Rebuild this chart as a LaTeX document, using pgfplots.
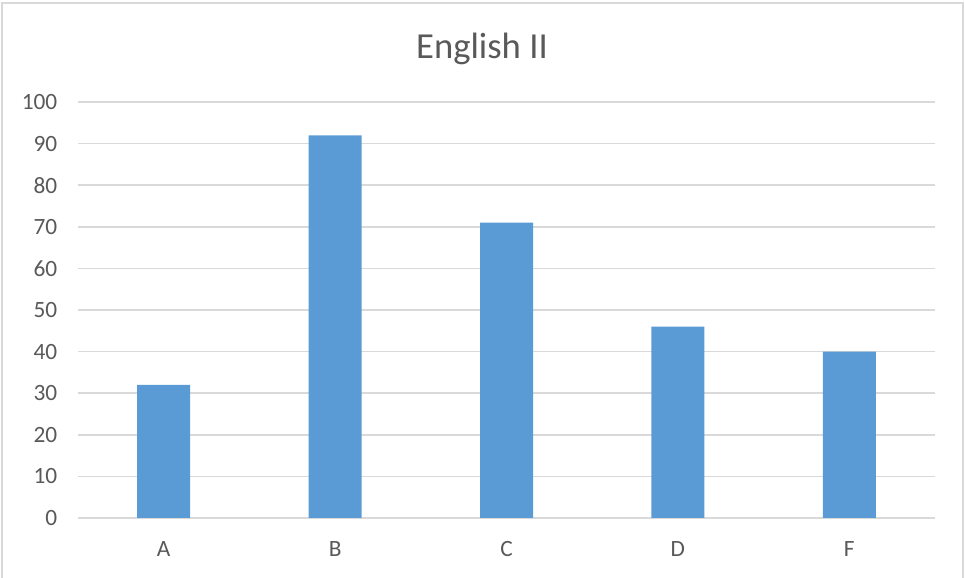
\documentclass[border=0pt]{standalone}
\usepackage{pgfplots}
\pgfplotsset{compat=1.18}
\usepackage{fontspec}
\setmainfont{Carlito}
\definecolor{barblue}{HTML}{5B9BD5}
\definecolor{txtgray}{HTML}{595959}
\definecolor{gridgray}{HTML}{D9D9D9}
\begin{document}
\begin{tikzpicture}[x=1pt,y=1pt]
\path[use as bounding box] (0,0) rectangle (723.75,433.5);
\draw[gridgray,line width=1.5pt] (1.5,-2) -- (1.5,431.25) -- (722.25,431.25) -- (722.25,-2);
\node[txtgray,font=\fontsize{27.5}{32}\selectfont] at (361.5,397) {English II};
\begin{axis}[
  at={(58.5pt,45pt)}, anchor=south west,
  scale only axis, width=642.75pt, height=312pt,
  ymin=0, ymax=100, ytick={0,10,...,100},
  xmin=-0.5, xmax=4.5, xtick=data,
  xticklabels={A,B,C,D,F},
  axis line style={draw=none},
  axis x line*=bottom,
  ymajorgrids, grid style={gridgray,line width=1.2pt},
  major tick length=0pt,
  ticklabel style={txtgray,font=\fontsize{17.5}{21}\selectfont},
  /pgf/number format/assume math mode=true,
  yticklabel style={xshift=-12pt},
  xticklabel style={yshift=-14pt},
  extra y ticks={0}, extra y tick labels={},
  extra y tick style={grid style={gridgray,line width=1.5pt}},
]
\addplot[ybar, bar width=39.75pt, fill=barblue, draw=none] coordinates {(0,32) (1,92) (2,71) (3,46) (4,40)};
\end{axis}
\end{tikzpicture}
\end{document}
